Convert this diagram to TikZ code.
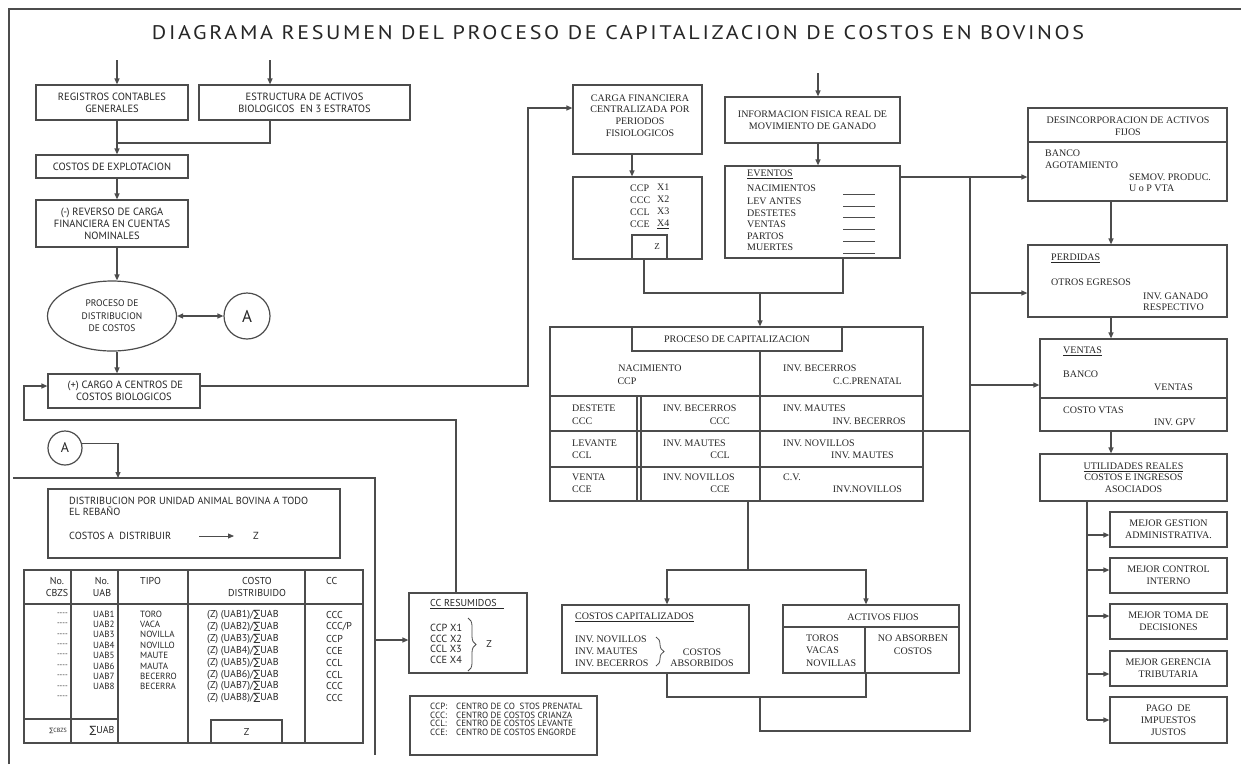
\documentclass[tikz,border=0pt]{standalone}
\usepackage{fontspec}
\usepackage{graphicx}
\setmainfont{Liberation Serif}
\newfontfamily\ptsans{PT Sans}
\newfontfamily\djv{DejaVu Sans}
\usetikzlibrary{arrows.meta,shapes.geometric,decorations.pathreplacing}
\newcommand{\sg}{{\djv ∑}}
\begin{document}
\begin{tikzpicture}[x=1pt,y=-1pt,
  ln/.style={draw=black!70,line width=1.2pt},
  sl/.style={draw=black!70,line width=0.8pt},
  arr/.style={ln,-{Triangle[length=6pt,width=5pt]}},
  darr/.style={ln,{Triangle[length=6pt,width=5pt]}-{Triangle[length=6pt,width=5pt]}},
  box/.style={ln,fill=white,rectangle,inner sep=0pt,align=center,text=black!85},
  sbox/.style={box,font=\ptsans\fontsize{10.5}{12}\selectfont},
  rbox/.style={box,font=\fontsize{10}{12}\selectfont},
  st/.style={inner sep=0pt,text=black!85,font=\ptsans\fontsize{10.3}{11}\selectfont,align=left},
  rt/.style={inner sep=0pt,text=black!85,font=\fontsize{10}{12}\selectfont,align=left},
  tt/.style={inner sep=0pt,text=black!85,font=\ptsans\fontsize{10}{12}\selectfont,align=center},
  ts/.style={inner sep=0pt,text=black!85,font=\ptsans\fontsize{9}{10}\selectfont,anchor=west},
  brc/.style={sl,decorate,decoration={brace,amplitude=8pt}}
]
\useasboundingbox (0,0) rectangle (1241,764);
\fill[white] (0,0) rectangle (1241,764);
\draw[ln] (9,764) -- (9,9) -- (1241,9);

% title
\node[inner sep=0pt,text=black!85] (title) at (618,33) {\resizebox{932pt}{14pt}{\ptsans\addfontfeature{LetterSpace=12}DIAGRAMA RESUMEN DEL PROCESO DE CAPITALIZACION DE COSTOS EN BOVINOS}};

% ---------------- left column
\node[sbox,minimum width=152,minimum height=35] (reg) at (112,102.5) {REGISTROS CONTABLES\\GENERALES};
\node[sbox,minimum width=211,minimum height=35] (est) at (304.5,102.5) {ESTRUCTURA DE ACTIVOS\\BIOLOGICOS\ \ EN 3 ESTRATOS};
\node[sbox,minimum width=152,minimum height=23] (cexp) at (112,166.5) {COSTOS DE EXPLOTACION};
\node[sbox,minimum width=152,minimum height=47] (rev) at (112,223.5) {(-) REVERSO DE CARGA\\FINANCIERA EN CUENTAS\\NOMINALES};
\node[ln,ellipse,fill=white,minimum width=129,minimum height=70,inner sep=0pt,align=center,text=black!85,font=\ptsans\fontsize{9.5}{12.5}\selectfont] (proc) at (112,316) {PROCESO DE\\DISTRIBUCION\\DE COSTOS};
\node[ln,circle,fill=white,minimum size=46,inner sep=0pt,font=\ptsans\fontsize{17}{17}\selectfont,text=black!85] (A1) at (247,316) {A};
\node[sbox,minimum width=152,minimum height=34] (cargo) at (124,391) {\ (+) CARGO A CENTROS DE\\COSTOS BIOLOGICOS};

\coordinate (tReg) at (117,60);
\coordinate (tEst) at (270,60);
\coordinate (j1) at (117,143);
\draw[arr] (tReg) -- (tReg |- reg.north);
\draw[arr] (tEst) -- (tEst |- est.north);
\draw[ln] (tReg |- reg.south) -- (j1);
\draw[ln] (tEst |- est.south) |- (j1);
\draw[arr] (j1) -- (j1 |- cexp.north);
\draw[arr] (j1 |- cexp.south) -- (j1 |- rev.north);
\draw[arr] (j1 |- rev.south) -- (j1 |- proc.north);
\draw[arr] (j1 |- proc.south) -- (j1 |- cargo.north);
\draw[darr] (proc.east) -- (A1.west);

% lower left frame with A
\node[ln,circle,fill=white,minimum size=34,inner sep=0pt,font=\ptsans\fontsize{14}{14}\selectfont,text=black!85] (A2) at (65,448) {A};
\coordinate (fA) at (118,478);
\coordinate (fr1) at (13,478);
\coordinate (fr2) at (375,478);
\coordinate (fr3) at (375,755);
\coordinate (fr4) at (375,640);
\draw[ln] (fr1) -- (fr2) -- (fr3);
\draw[arr] (A2.15) -| (fA);

% distribucion box
\node[box,minimum width=292,minimum height=69] (dist) at (194,523.5) {};
\node[st,anchor=west] (dt1) at (69,506.5) {DISTRIBUCION POR UNIDAD ANIMAL BOVINA A TODO\\EL REBAÑO};
\node[st,anchor=west] (dt2) at (69,536) {COSTOS A\ \ DISTRIBUIR};
\coordinate (da1) at (199,536);
\coordinate (da2) at (234,536);
\draw[sl,-{Triangle[length=6pt,width=5pt]}] (da1) -- (da2);
\node[st] (dt3) at (256,536) {Z};

% table
\node[box,minimum width=339,minimum height=173] (tab) at (193.5,656.5) {};
\draw[ln] (71,570) -- (71,743);
\draw[ln] (118,570) -- (118,743);
\draw[ln] (188,570) -- (188,743);
\draw[ln] (305,570) -- (305,743);
\draw[ln] (24,604) -- (363,604);
\draw[ln] (24,719) -- (118,719);
\node[box,minimum width=71,minimum height=23,font=\ptsans\fontsize{10}{10}\selectfont] (zb) at (246.5,731.5) {Z};
\node[tt] (h1) at (57,587) {No.\\CBZS};
\node[tt] (h2) at (102,587) {No.\\UAB};
\node[tt,anchor=west] (h3) at (140,581) {TIPO};
\node[tt] (h4) at (257,587) {COSTO\\DISTRIBUIDO};
\node[tt,anchor=west] (h5) at (326,581) {CC};
\foreach \i in {0,...,8} \node[ts,anchor=east,font=\ptsans\fontsize{7.5}{9}\selectfont] (d\i) at (68,{614+10.4*\i}) {----};
\foreach \u [count=\i from 0] in {UAB1,UAB2,UAB3,UAB4,UAB5,UAB6,UAB7,UAB8}
  \node[ts] (u\i) at (93,{614+10.4*\i}) {\u};
\foreach \u [count=\i from 0] in {TORO,VACA,NOVILLA,NOVILLO,MAUTE,MAUTA,BECERRO,BECERRA}
  \node[ts] (p\i) at (140,{614+10.4*\i}) {\u};
\foreach \i in {1,...,8}
  \node[tt,anchor=west] (k\i) at (207,{615+11.9*(\i-1)}) {(Z) (UAB\i)/\sg UAB};
\foreach \u [count=\i from 0] in {CCC,CCC/P,CCP,CCE,CCL,CCL,CCC,CCC}
  \node[tt,anchor=west] (q\i) at (326,{615+11.9*\i}) {\u};
\node[inner sep=0pt,text=black!85,font=\ptsans\fontsize{6}{6}\selectfont] (scb) at (58,731) {\sg CBZS};
\node[tt] (suab) at (102,731) {\sg UAB};

% CC resumidos
\node[box,minimum width=118,minimum height=80] (ccres) at (468,633) {};
\node[st,anchor=west,font=\ptsans\fontsize{10}{11}\selectfont] (crt) at (430,604) {\underline{CC RESUMIDOS\hspace{7pt}}};
\node[st,anchor=west,font=\ptsans\fontsize{10.3}{10.7}\selectfont] (cri) at (430,644) {CCP X1\\CCC X2\\CCL X3\\CCE X4};
\draw[brc] (468,618) -- (468,671);
\node[st,font=\ptsans\fontsize{10}{11}\selectfont] (crz) at (489,644) {Z};
\draw[arr] (fr4) -- (fr4 -| ccres.west);

\coordinate (fb1) at (24,386);
\coordinate (fb2) at (456,420);
\draw[arr] (fb2 |- ccres.north) -- (fb2) -| (fb1) -- (fb1 -| cargo.west);

% legend
\node[box,minimum width=187,minimum height=59] (leg) at (503.5,725.5) {};
\node[inner sep=0pt,text=black!85,font=\ptsans\fontsize{9}{8.5}\selectfont,align=left,anchor=north west] (lg1) at (430,703) {CCP:\\CCC:\\CCL:\\CCE:};
\node[inner sep=0pt,text=black!85,font=\ptsans\fontsize{9}{8.5}\selectfont,align=left,anchor=north west] (lg2) at (456,703) {CENTRO DE CO\ \ STOS PRENATAL\\CENTRO DE COSTOS CRIANZA\\CENTRO DE COSTOS LEVANTE\\CENTRO DE COSTOS ENGORDE};

% ---------------- middle
\node[box,minimum width=129,minimum height=69] (carga) at (637.5,119.5) {};
\node[rt,align=center,font=\fontsize{10}{11.7}\selectfont] (cgt) at (640,115.5) {CARGA FINANCIERA\\CENTRALIZADA POR\\PERIODOS\\FISIOLOGICOS};
\coordinate (c1) at (528,386);
\coordinate (c2) at (528,108);
\draw[arr] (c1 -| cargo.east) -- (c1) -- (c2) -- (c2 -| carga.west);

\node[box,minimum width=129,minimum height=82] (ccp) at (637.5,218) {};
\node[rt,anchor=west,font=\fontsize{10}{12.1}\selectfont] (cpa) at (630,206) {CCP\\CCC\\CCL\\CCE};
\node[rt,anchor=west,font=\fontsize{10}{12.1}\selectfont] (cpb) at (657,206) {X1\\X2\\X3\\\underline{X4}};
\node[box,minimum width=35,minimum height=24] (zbox) at (649.5,247) {};
\node[rt,font=\fontsize{9}{10}\selectfont] (zt) at (657,247) {Z};
\coordinate (k1) at (632,154);
\draw[arr] (k1 |- carga.south) -- (k1 |- ccp.north);

\node[rbox,minimum width=175,minimum height=46] (info) at (812.5,120) {INFORMACION FISICA REAL DE\\MOVIMIENTO DE GANADO};
\node[box,minimum width=175,minimum height=92] (ev) at (812.5,212) {};
\node[rt,anchor=west] (evt) at (747,174) {\underline{EVENTOS}};
\foreach \e/\y [count=\i] in {NACIMIENTOS/188,LEV ANTES/201,DESTETES/213,VENTAS/224,PARTOS/236,MUERTES/247}
  \node[rt,anchor=west] (ev\i) at (747,\y) {\e};
\foreach \y in {194,206,217,229,241,253} \draw[sl] (843,\y) -- (875,\y);
\coordinate (i0) at (818,73);
\draw[arr] (i0) -- (i0 |- info.north);
\draw[arr] (i0 |- info.south) -- (i0 |- ev.north);

% process
\node[box,minimum width=373,minimum height=174] (pc) at (736.5,414) {};
\node[rbox,minimum width=210,minimum height=24] (pct) at (737,339) {PROCESO DE CAPITALIZACION};
\draw[ln] (760,351) -- (760,501);
\draw[ln] (550,396) -- (923,396);
\draw[ln] (550,431) -- (923,431);
\draw[ln] (550,467) -- (923,467);
\draw[ln] (637,396) -- (637,501);
\draw[ln] (641,396) -- (641,501);
\coordinate (m1) at (644,293);
\coordinate (m2) at (843,293);
\coordinate (m3) at (760,293);
\draw[ln] (m1 |- zbox.south) -- (m1) -- (m2) -- (m2 |- ev.south);
\draw[arr] (m3) -- (m3 |- pc.north);

\node[rt] (n1) at (650,368) {NACIMIENTO};
\node[rt] (n2) at (627,381) {CCP};
\node[rt,anchor=west] (n3) at (783,368) {INV. BECERROS};
\node[rt,anchor=east] (n4) at (902,381) {C.C.PRENATAL};
\node[rt,anchor=west] (r21) at (572,408) {DESTETE};
\node[rt,anchor=west] (r22) at (572,421) {CCC};
\node[rt,anchor=west] (r23) at (663,408) {INV. BECERROS};
\node[rt,anchor=east] (r24) at (730,421) {CCC};
\node[rt,anchor=west] (r25) at (783,408) {INV. MAUTES};
\node[rt,anchor=east] (r26) at (906,421) {INV. BECERROS};
\node[rt,anchor=west] (r31) at (572,443) {LEVANTE};
\node[rt,anchor=west] (r32) at (572,455) {CCL};
\node[rt,anchor=west] (r33) at (663,443) {INV. MAUTES};
\node[rt,anchor=east] (r34) at (730,455) {CCL};
\node[rt,anchor=west] (r35) at (783,443) {INV. NOVILLOS};
\node[rt,anchor=east] (r36) at (894,455) {INV. MAUTES};
\node[rt,anchor=west] (r41) at (572,477) {VENTA};
\node[rt,anchor=west] (r42) at (572,489) {CCE};
\node[rt,anchor=west] (r43) at (663,477) {INV. NOVILLOS};
\node[rt,anchor=east] (r44) at (730,489) {CCE};
\node[rt,anchor=west] (r45) at (783,477) {C.V.};
\node[rt,anchor=east] (r46) at (902,489) {INV.NOVILLOS};

% costos capitalizados / activos fijos
\node[box,minimum width=187,minimum height=68] (cc) at (655.5,639) {};
\node[rt,anchor=west] (cct) at (575,617) {\underline{COSTOS CAPITALIZADOS}};
\node[rt,anchor=west,font=\fontsize{10}{12}\selectfont] (cci) at (575,651) {INV. NOVILLOS\\INV. MAUTES\\INV. BECERROS};
\draw[brc] (656,637) -- (656,666);
\node[rt,align=center,font=\fontsize{10}{11}\selectfont] (cca) at (702,657.5) {COSTOS\\ABSORBIDOS};
\node[box,minimum width=176,minimum height=68] (af) at (871,639) {};
\draw[ln] (783,627) -- (959,627);
\draw[ln] (865,627) -- (865,673);
\node[rt] (aft) at (883,617) {ACTIVOS FIJOS};
\node[rt,anchor=west,font=\fontsize{10}{12.5}\selectfont] (afi) at (806,650.5) {TOROS\\VACAS\\NOVILLAS};
\node[rt,align=center,font=\fontsize{10}{13}\selectfont] (afn) at (913,644.5) {NO ABSORBEN\\COSTOS};

\coordinate (s1) at (748,570);
\coordinate (s2) at (667,570);
\coordinate (s3) at (866,570);
\draw[ln] (s1 |- pc.south) -- (s1);
\draw[arr] (s1) -- (s2) -- (s2 |- cc.north);
\draw[arr] (s1) -- (s3) -- (s3 |- af.north);
\coordinate (b1) at (760,697);
\coordinate (b2) at (667,697);
\coordinate (b3) at (866,697);
\draw[ln] (b2 |- cc.south) -- (b2) -- (b3) -- (b3 |- af.south);

% ---------------- right column
\node[box,minimum width=199,minimum height=93] (des) at (1127.5,154.5) {};
\draw[ln] (1028,142) -- (1227,142);
\node[rt,align=center] (dest) at (1128,126) {DESINCORPORACION DE ACTIVOS\\FIJOS};
\node[rt,anchor=west] (bt1) at (1045,159) {BANCO\\AGOTAMIENTO};
\node[rt,anchor=west,font=\fontsize{10}{11}\selectfont] (bt2) at (1129,182.5) {SEMOV. PRODUC.\\U o P VTA};

\node[box,minimum width=199,minimum height=72] (perd) at (1127.5,281) {};
\node[rt,anchor=west] (pe1) at (1051,258) {\underline{PERDIDAS}};
\node[rt,anchor=west] (pe2) at (1051,282) {OTROS EGRESOS};
\node[rt,anchor=west,font=\fontsize{10}{11}\selectfont] (pe3) at (1143,302) {INV. GANADO\\RESPECTIVO};

\node[box,minimum width=187,minimum height=92] (ven) at (1133.5,385) {};
\draw[ln] (1040,398) -- (1227,398);
\node[rt,anchor=west] (ve1) at (1063,351) {\underline{VENTAS}};
\node[rt,anchor=west] (ve2) at (1063,374) {BANCO};
\node[rt,anchor=west] (ve3) at (1154,387) {VENTAS};
\node[rt,anchor=west] (ve4) at (1063,410) {COSTO VTAS};
\node[rt,anchor=west] (ve5) at (1154,422) {INV. GPV};

\node[rbox,minimum width=187,minimum height=47,font=\fontsize{10}{11.5}\selectfont] (util) at (1133.5,477.5) {\underline{UTILIDADES REALES}\\COSTOS E INGRESOS\\ASOCIADOS};

\node[rbox,minimum width=117,minimum height=35] (g1) at (1168.5,529.5) {MEJOR GESTION\\ADMINISTRATIVA.};
\node[rbox,minimum width=117,minimum height=35] (g2) at (1168.5,575.5) {MEJOR CONTROL\\INTERNO};
\node[rbox,minimum width=117,minimum height=35] (g3) at (1168.5,621.5) {MEJOR TOMA DE\\DECISIONES};
\node[rbox,minimum width=117,minimum height=35] (g4) at (1168.5,668.5) {MEJOR GERENCIA\\TRIBUTARIA};
\node[rbox,minimum width=117,minimum height=46] (g5) at (1168.5,720) {PAGO\ \ DE\\IMPUESTOS\\JUSTOS};

\coordinate (qv) at (1111,300);
\draw[arr] (qv |- des.south) -- (qv |- perd.north);
\draw[arr] (qv |- perd.south) -- (qv |- ven.north);
\draw[arr] (qv |- ven.south) -- (qv |- util.north);

\coordinate (u0) at (1087,501);
\coordinate (u5) at (1087,720);
\draw[ln] (u0 |- util.south) -- (u5);
\coordinate (u1) at (1087,535);
\coordinate (u2) at (1087,570);
\coordinate (u3) at (1087,616);
\coordinate (u4) at (1087,674);
\draw[arr] (u1) -- (u1 -| g1.west);
\draw[arr] (u2) -- (u2 -| g2.west);
\draw[arr] (u3) -- (u3 -| g3.west);
\draw[arr] (u4) -- (u4 -| g4.west);
\draw[arr] (u5) -- (u5 -| g5.west);

% right trunk
\coordinate (r1) at (970,177);
\coordinate (r2) at (970,731);
\coordinate (r3) at (970,293);
\coordinate (r4) at (970,385);
\coordinate (r5) at (970,431);
\draw[arr] (r1 -| ev.east) -- (r1) -- (r1 -| des.west);
\draw[ln] (b1) -- (b1 |- r2) -- (r2) -- (r1);
\draw[arr] (r3) -- (r3 -| perd.west);
\draw[arr] (r4) -- (r4 -| ven.west);
\draw[ln] (r5 -| pc.east) -- (r5);
\end{tikzpicture}
\end{document}
